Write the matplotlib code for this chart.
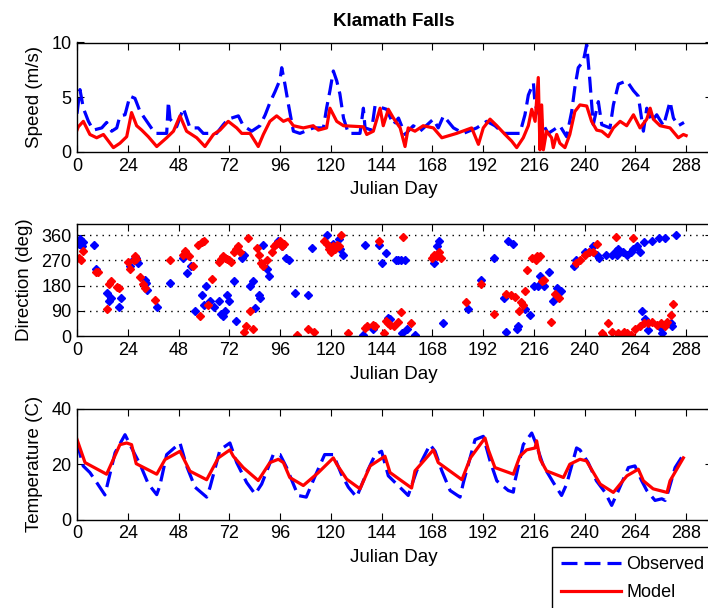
import matplotlib
matplotlib.use("Agg")
import matplotlib.pyplot as plt
from matplotlib.lines import Line2D

plt.rcParams['font.family'] = ['Liberation Sans', 'DejaVu Sans']

# ---------------- data ----------------
speed_obs_day = [0, 1.4, 3, 5.4, 7.7, 11.7, 14, 16.4, 18.8, 20.3, 22.7, 25, 27.4, 29.8, 33, 36.9, 42.4,
                 43.2, 44, 47.1, 50.3, 53.4, 57.3, 59.7, 66, 69.2, 71.5, 76.3, 78.6, 82.6, 86.5, 89, 91.2,
                 93.6, 96, 96.8, 98.3, 100, 102.3, 105.4, 111.7, 116.5, 118, 119.6, 121.2, 122.8, 124.3,
                 126, 128.3, 133.8, 135.4, 136.2, 139.3, 140.9, 144.8, 146.4, 149.6, 152, 155.1, 159,
                 162.2, 168.5, 170.8, 173.3, 178, 182.7, 189, 193.7, 197.6, 201.6, 209.4, 211.8, 213.4,
                 215.8, 216.6, 221.3, 222.8, 225.2, 228.3, 231.5, 233.9, 235.4, 237, 239.4, 241, 242.5,
                 244.1, 246.5, 248.1, 252, 253.6, 256, 259.9, 263.1, 265.4, 267.8, 269.4, 271.7, 274.1,
                 277.3, 280.4, 282, 284.3, 287]
speed_obs = [3.5, 5.7, 4.0, 2.8, 2.0, 2.2, 2.7, 1.9, 2.2, 3.3, 3.4, 5.1, 4.9, 3.7, 2.8, 1.7, 1.7,
             4.6, 3.0, 2.3, 4.0, 2.2, 2.2, 1.7, 1.7, 2.5, 3.0, 3.3, 2.4, 1.9, 2.4, 3.4, 4.5,
             5.5, 6.6, 7.7, 6.2, 4.3, 1.9, 1.7, 2.2, 2.2, 4.0, 5.6, 7.4, 6.5, 5.3,
             3.1, 1.7, 1.7, 4.0, 2.2, 2.0, 4.2, 4.0, 3.9, 2.5, 3.1, 1.6, 2.4,
             1.9, 3.0, 2.2, 3.3, 2.2, 1.7, 2.2, 2.8, 2.4, 1.7, 1.7, 3.4, 5.2,
             6.3, 4.3, 2.2, 1.7, 2.0, 2.4, 1.4, 3.7, 5.9, 7.7, 8.3, 9.8, 6.5,
             2.5, 4.6, 2.5, 2.2, 4.3, 6.2, 6.5, 5.6, 5.1, 1.9, 4.0, 2.8, 3.4,
             2.4, 4.6, 3.1, 2.4, 2.7]

speed_mod_day = [0, 0.6, 3, 6.1, 9.3, 12.5, 17.2, 20.3, 23.5, 25.8, 28.2, 30.6, 33.7, 37.7, 42.4, 45.6,
                 48.7, 51.8, 56.6, 60.5, 64.5, 67.6, 71.5, 75.5, 77.9, 81.8, 85.7, 88.1, 91.2, 94.4,
                 97.6, 100, 102.3, 107, 111.7, 114.1, 118, 119.6, 121.2, 122.8, 126, 135.4, 137, 140.1,
                 143.3, 144.8, 147.2, 149.6, 152.8, 155.1, 156.6, 159.8, 163.7, 168.5, 172.5, 179.5,
                 186.6, 189.8, 192.1, 195.3, 198.5, 202.4, 205.5, 207.9, 211, 213.4, 215, 216.6, 218.1,
                 218.9, 219.7, 220.5, 222, 224.4, 225.2, 226.8, 228.3, 230.7, 233, 235.4, 237.8, 241,
                 243.3, 245.7, 248.1, 251.2, 253.6, 256.8, 259.9, 263.1, 266.2, 269.4, 271, 272.5,
                 275.7, 280.4, 284.3, 286.7, 288]
speed_mod = [2.0, 2.3, 2.8, 1.6, 1.3, 1.6, 0.4, 0.8, 1.4, 3.6, 2.4, 2.0, 1.4, 0.5, 1.3, 1.9,
             3.3, 1.9, 1.3, 0.5, 1.6, 2.0, 2.8, 2.2, 1.7, 1.7, 0.5, 1.6, 2.8, 3.3,
             2.8, 3.0, 2.4, 2.2, 2.4, 2.0, 2.2, 4.0, 3.4, 2.8, 2.4, 2.3, 1.6, 1.9,
             4.0, 2.4, 3.9, 3.1, 2.2, 0.5, 2.2, 1.9, 2.4, 2.2, 1.3, 1.7,
             2.2, 0.7, 2.2, 3.0, 2.4, 1.6, 1.0, 0.4, 1.3, 2.4, 3.9, 2.8, 6.8,
             0.2, 4.3, 0.2, 1.9, 1.3, 0.4, 1.6, 0.8, 0.4, 1.6, 3.7, 4.3, 4.2,
             2.8, 2.0, 1.9, 1.4, 2.2, 2.8, 2.4, 3.4, 2.2, 3.0, 4.0, 3.0,
             2.4, 2.2, 1.3, 1.6, 1.5]

dir_obs_day = [1, 1.5, 2, 2.5, 3, 8, 9, 14, 15, 16, 20, 21, 25, 27, 28, 29, 32, 32.5, 33, 38, 44,
               50, 52, 54, 56, 59, 60, 61, 63, 65, 67, 68, 69, 70, 71, 72, 74, 75, 78, 79, 82, 83,
               84, 86, 86.5, 88, 90, 91, 95, 97, 99, 100, 103, 109, 111, 118, 119, 121, 124, 124.5,
               126, 135, 136, 140, 143, 144, 146, 147, 148, 151, 152, 153, 153.5, 155, 156, 160,
               169, 170, 171, 173, 185, 191, 197, 202, 203, 204, 206, 208, 208.5, 212, 214, 216,
               218, 219, 221, 223, 225, 227, 229, 235, 236, 240, 242, 244, 246, 247, 250, 253,
               255, 255.5, 256, 258, 260, 262, 263, 265, 266, 268, 267, 268.5, 270, 272, 275, 276,
               276.5, 278, 283, 281, 281.5]
dir_obs_deg = [330, 345, 340, 320, 335, 325, 240, 155, 125, 135, 105, 135, 250, 275, 280, 260, 200,
               190, 165, 105, 190, 280, 225, 250, 90, 145, 110, 180, 125, 105, 125, 80, 70, 90,
               145, 125, 195, 55, 280, 290, 180, 195, 100, 145, 135, 325, 240, 215, 340, 320, 280,
               270, 155, 145, 315, 360, 320, 330, 345, 310, 290, 5, 325, 25, 325, 260, 295, 65, 60,
               270, 270, 270, 10, 270, 25, 5, 260, 320, 340, 45, 95, 200, 280, 135, 15, 340, 330, 25,
               35, 95, 75, 180, 180, 215, 180, 230, 125, 170, 160, 250, 270, 300, 300, 320, 290, 280,
               290, 290, 305, 290, 310, 300, 290, 300, 310, 320, 300, 335, 90, 60, 20, 340, 350, 30,
               10, 350, 360, 45, 35]

dir_mod_day = [1, 2, 3, 9, 10, 14, 15, 16, 19, 20, 24, 25, 27, 27.5, 28, 30, 31, 32, 37, 44, 50, 51,
               53, 55, 57, 58, 59, 60, 62, 64, 67, 68, 69, 70, 71, 72, 73, 74, 75, 76, 77, 79, 80,
               81, 82, 83, 85, 86, 87, 88, 90, 92, 93, 94, 96, 97, 98, 104, 109, 112, 117, 118, 119,
               120, 121, 122, 123, 124, 125, 128, 136, 137, 140, 141, 143, 145, 146, 147, 148, 150,
               152, 153, 154, 158, 168, 169, 170, 171, 172, 184, 191, 197, 203, 205, 207, 209, 210,
               211, 212, 213, 215, 217, 217.5, 219, 220, 221, 224, 226, 228, 236, 238, 240, 242,
               244, 246, 248, 248.5, 251, 253, 255, 256, 256.5, 258, 258.5, 260, 262, 263, 264,
               266, 268, 270, 272, 274, 276, 278, 279, 281, 282]
dir_mod_deg = [280, 270, 305, 230, 230, 95, 185, 195, 175, 170, 265, 240, 270, 285, 275, 210, 185,
               170, 130, 270, 290, 305, 285, 250, 325, 70, 335, 340, 110, 205, 265, 275, 285, 280,
               275, 270, 265, 300, 310, 320, 300, 15, 35, 350, 90, 25, 315, 290, 260, 250, 270, 300,
               320, 330, 340, 320, 330, 5, 25, 15, 340, 330, 310, 300, 320, 310, 325, 320, 360, 10,
               30, 35, 40, 35, 340, 10, 55, 45, 40, 35, 50, 85, 355, 45, 280, 290, 285, 300, 280,
               120, 185, 80, 150, 145, 140, 90, 120, 110, 160, 235, 280, 270, 285, 285, 195, 200, 50,
               150, 135, 260, 270, 290, 300, 300, 330, 10, 5, 45, 15, 355, 10, 5, 5, 15, 10, 5, 350,
               25, 35, 45, 45, 50, 40, 45, 35, 50, 75, 115]

temp_obs_day = [0, 2.9, 6.1, 9.3, 13.2, 14.8, 18, 22.7, 27.4, 29.8, 33.7, 37.7, 39.2, 42.4, 48.7, 51.8,
                55.8, 61.3, 62.9, 67.6, 72.3, 75.5, 80.2, 84.2, 87.3, 92.8, 96, 99.1, 104.5, 108.4,
                112.3, 117.1, 121.2, 125, 128.3, 132.2, 137, 141, 144, 147.2, 156.6, 160.6, 166.9,
                169.3, 172.5, 176.4, 181.1, 182.7, 188.2, 192.1, 195.3, 198.5, 203.9, 206.3, 207.1,
                211, 215, 216.6, 220.5, 225.2, 229.1, 231.5, 236.2, 237.8, 241.7, 245.6, 249.6, 252.8,
                256, 260.7, 263.8, 267, 269.4, 273.3, 276.5, 278.1, 279.7, 282.8, 286.7]
temp_obs = [28, 19.4, 17, 13.4, 8.9, 14, 24.2, 30.7, 23.5, 20, 12.9, 9, 12.3, 23.5, 27.7, 19.4,
            11.7, 8.1, 11.7, 25.2, 27.7, 20.6, 13.4, 9.2, 12.8, 23.5, 23.5, 18.8, 8.7, 8.1,
            15.2, 23.5, 23.5, 16.4, 11.7, 8.1, 17, 23.5, 24.7, 15.8, 8.7, 17.6, 27.1,
            24.7, 17.6, 10.5, 8.1, 13.4, 28.9, 30.1, 21.2, 14, 10.5, 9.9, 14,
            27.1, 31.3, 28.3, 19.4, 13.4, 8.7, 12.8, 25.9, 25.2, 20.6, 14, 9.9, 5.1,
            10.5, 18.8, 19.4, 14, 10.5, 6.9, 7.5, 6.9, 10.5, 18.8, 23.5]

temp_mod_day = [0, 3.8, 14, 20.3, 23.5, 25.8, 28, 37.7, 41.6, 48.7, 53.4, 61.3, 66.8, 72.3, 73.9, 78.6,
                85.7, 91.2, 95.2, 97.6, 100.6, 107, 114, 121.2, 122.8, 127.5, 133.8, 138.6, 145.6,
                148, 158.2, 159.8, 168.5, 170.8, 182, 186, 192.9, 194.5, 197.6, 206.3, 209.4, 212.6,
                216.6, 217.3, 219, 222, 230, 233, 237.8, 240.9, 247.4, 253.6, 260, 265.4, 267.8,
                272.4, 279, 280.4, 286.7]
temp_mod = [29, 20.6, 16.4, 27.1, 27.7, 27.1, 20.2, 16.4, 21.7, 24.7, 17.5, 14.4, 22.3, 25.2, 22.9,
            18.8, 14.1, 20.6, 21.8, 20.6, 15.2, 12.3, 16.9, 22.3, 20.0, 14.6, 11.1, 19.4, 22.9,
            17, 11.4, 17.6, 25.2, 20.6, 14.4, 22.3, 29.5, 25.2, 18.8, 16.4, 22.9, 25.2,
            25.9, 28.5, 21.8, 17.6, 15.2, 20, 21.8, 21.2, 12.8, 9.8, 15.8, 18.2, 14.0,
            11.1, 9.8, 14, 22.3]

xticks = list(range(0, 289, 24))
title = "Klamath Falls"

# ---------------- figure ----------------
W, H = 708, 608
fig = plt.figure(figsize=(W / 100, H / 100), dpi=100)


def ax_at(left, top, right, bottom):
    return fig.add_axes([left / W, 1 - bottom / H, (right - left) / W, (bottom - top) / H])


FS = 13
obs_kw = dict(color='#0000ff', lw=2.3, dashes=(5, 2.2))
mod_kw = dict(color='#ff0000', lw=2.3)


def style(ax, yticks, ylim, ylabel):
    ax.set_xlim(0, 300)
    ax.set_ylim(*ylim)
    ax.set_xticks(xticks)
    ax.set_yticks(yticks)
    ax.tick_params(direction='in', top=True, right=True, length=5, width=0.8,
                   labelsize=FS, pad=4)
    for s in ax.spines.values():
        s.set_linewidth(1.0)
    ax.set_xlabel("Julian Day", fontsize=FS + 0.5, labelpad=5)
    ax.set_ylabel(ylabel, fontsize=FS + 0.5, labelpad=6)


ax1 = ax_at(77, 42.5, 711.5, 152)
ax1.plot(speed_obs_day, speed_obs, **obs_kw)
ax1.plot(speed_mod_day, speed_mod, **mod_kw)
style(ax1, [0, 5, 10], (0, 10), "Speed (m/s)")
ax1.set_title(title, fontsize=FS + 0.5, fontweight='bold', pad=12)

ax2 = ax_at(77, 224, 711.5, 336)
ax2.plot(dir_obs_day, dir_obs_deg, linestyle='none', marker='D', ms=4.5,
         color='#0000ff', mec='#0000ff')
ax2.plot(dir_mod_day, dir_mod_deg, linestyle='none', marker='D', ms=4.5,
         color='#ff0000', mec='#ff0000')
style(ax2, [0, 90, 180, 270, 360], (0, 400), "Direction (deg)")
for yv in [90, 180, 270, 360]:
    ax2.axhline(yv, color='black', lw=1.0, linestyle=(0, (1, 3.5)), zorder=0)

ax3 = ax_at(77, 409, 711.5, 519.5)
ax3.plot(temp_obs_day, temp_obs, **obs_kw)
ax3.plot(temp_mod_day, temp_mod, **mod_kw)
style(ax3, [0, 20, 40], (0, 40), "Temperature (C)")

handles = [Line2D([], [], **obs_kw), Line2D([], [], **mod_kw)]
leg = fig.legend(handles, ["Observed", "Model"], loc='upper left',
                 bbox_to_anchor=(552 / W, 1 - 547 / H), fontsize=FS,
                 frameon=True, fancybox=False, framealpha=1, edgecolor='black',
                 handlelength=3.3, handletextpad=0.3, borderpad=0.5, labelspacing=0.6,
                 borderaxespad=0)
leg.get_frame().set_linewidth(1.0)

fig.savefig("out.png", dpi=100)
